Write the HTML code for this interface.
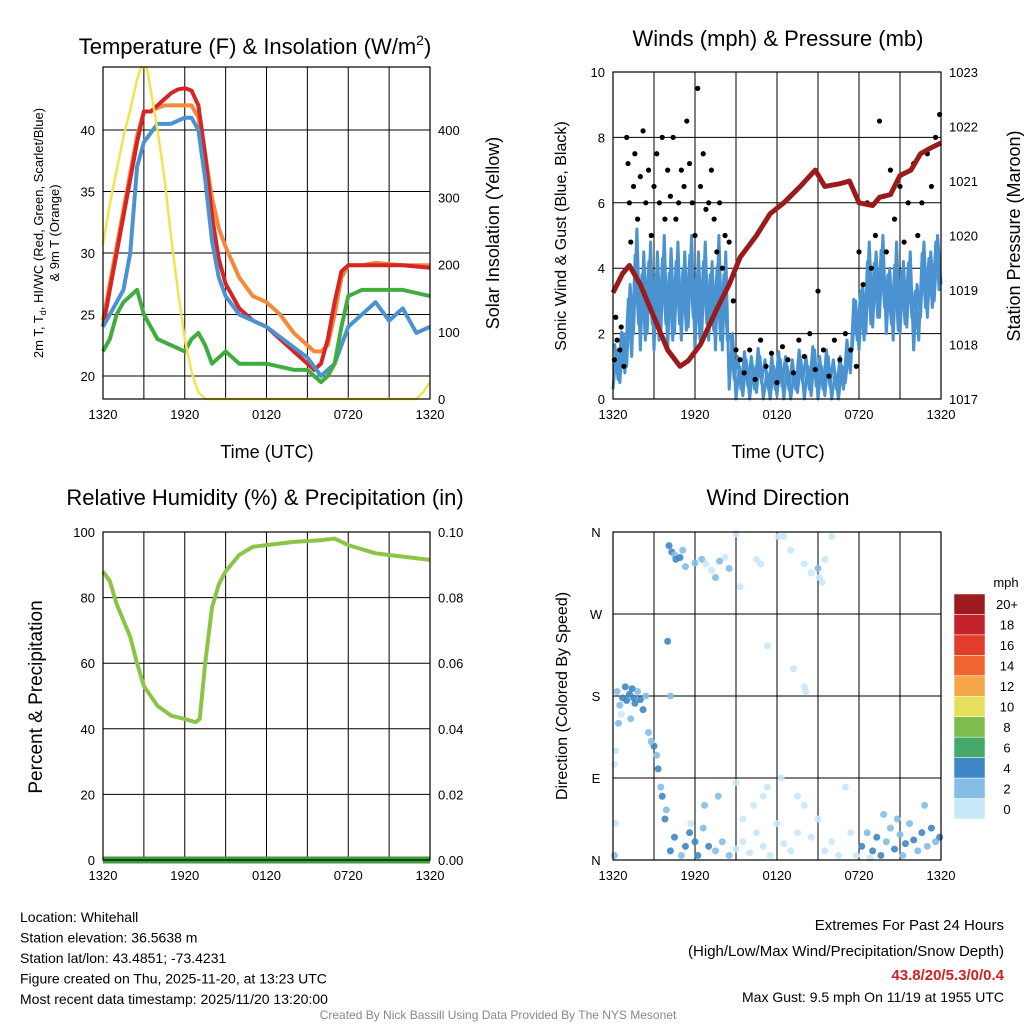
<!DOCTYPE html>
<html><head><meta charset="utf-8"><style>
body{margin:0;background:#fff}
svg{display:block;font-family:"Liberation Sans",sans-serif}
</style></head><body>
<svg id="c" width="1024" height="1024" viewBox="0 0 1024 1024"></svg>
<script>
const xLabels=["1320","1920","0120","0720","1320"];
const xLabelHours=[0,6,12,18,24];
const tempT=[0,0.5,1,1.5,2,2.5,3,3.5,4,4.5,5,5.5,6,6.5,7,7.5,8,8.5,9,10,11,12,13,14,15,15.5,16,16.5,17,17.5,18,19,20,22,24];
const tempRed=[24,27,30,33,36,39,41.5,41.5,42,42.5,43,43.3,43.4,43.2,42,38,33,29.5,27.5,25.5,24.5,24,23,22,21,20.5,21,23,26,28.5,29,29,29,29,28.8];
const tempOrange=[24.5,27.5,30.5,33.5,36.5,39.5,41.5,41.5,41.8,42,42,42,42,42,41,38,34.5,32,30.5,28,26.5,26,25,23.5,22.5,22,22,22.5,25,28,29,29,29.2,29,29];
const blueT=[0,1,1.5,2,2.5,3,4,5,6,6.5,7,7.5,8,8.5,9,10,12,15,16,17,18,19,20,21,22,23,24];
const tempBlue=[24,26,27,30,37,39,40.5,40.5,41,41,40,36,31,28,26.5,25,24,21.5,20,21,24,25,26,24.5,25.5,23.5,24];
const greenT=[0,0.5,1,1.5,2,2.5,3,4,5,6,6.5,7,7.5,8,9,10,12,14,15,16,16.5,17,17.5,18,19,20,22,24];
const tempGreen=[22,23,25,26,26.5,27,25,23,22.5,22,23,23.5,22.5,21,22,21,21,20.5,20.5,19.5,20,21,24,26.5,27,27,27,26.5];
const solT=[0,0.5,1,1.5,2,2.5,2.8,3.2,3.5,4,4.5,5,5.5,6,6.5,7,7.5,12,23,23.5,24];
const solar=[230,290,340,390,430,475,494,494,460,400,330,240,160,90,40,10,0,0,0,10,25];
const windHi=[1.5,2,3.5,5.2,4.5,4.8,4.5,5,4.6,4.8,4.5,5,4.5,4.8,4.2,5,4.5,2,1,1.2,1,1.3,0.8,1,1.2,1,0.8,1.2,1,1.5,1,1.3,0.8,1,1.5,3,3.5,4.8,4.5,5,4,4.8,4.2,4.5,3.5,4.8,4.5,5,4.5];
const windLo=[0.3,0.5,1,2,1.5,2,1.5,2,1.5,2,1.8,2.2,1.5,2,1.8,1.5,1.5,0.3,0,0.1,0,0.2,0,0,0.1,0,0,0.2,0,0.1,0,0.1,0,0,0.5,1.5,1.5,2,2.2,2.5,2,1.8,2,2.2,1.5,2.5,2.5,3,3.5];
const gustT=[0.1,0.2,0.3,0.5,0.6,0.8,1.0,1.1,1.2,1.3,1.5,1.6,1.8,2.0,2.2,2.4,2.6,2.8,3.0,3.2,3.4,3.6,3.8,4.0,4.2,4.4,4.6,4.8,5.0,5.2,5.4,5.6,5.8,6.0,6.2,6.4,6.6,6.8,7.0,7.2,7.4,7.6,7.8,8.0,8.2,8.5,8.8,9.0,9.3,9.6,10,10.4,10.8,11.2,11.6,12,12.4,12.8,13.2,13.6,14,14.4,14.8,15,15.4,15.8,16.2,16.6,17,17.4,17.8,18,18.3,18.6,18.9,19.2,19.5,19.8,20,20.3,20.6,21,21.3,21.6,22,22.3,22.6,23,23.3,23.6,23.9];
const gustV=[1.2,2.5,1.8,1.5,2.2,1,8,7.2,6,4.8,6.5,7.5,5.5,6.8,8.2,6,7,5,6.5,7.5,6,8,5.5,7,6.2,8,5.5,6,7,6.5,8.5,7.2,6,5,9.5,6.5,7.5,5.8,6,7,5.5,4.5,6,4,5,4.8,3,1.5,1.2,0.8,1.5,0.6,1.8,1,1.4,0.5,1.6,1.2,0.8,1.8,1.3,2,0.9,3.3,1.5,0.7,1.8,1.2,2,1.5,1,4.5,3.5,6,4,5,8.5,6.2,4.5,7,5.5,6.5,4.8,6,7.2,5,6,7.5,6.5,8,8.7];
const presT=[0,0.7,1.2,2,3,4,4.9,5.5,6.4,7.5,8.5,9.3,10.5,11.5,12.5,13.7,14.8,15.5,16.6,17.3,18,19,19.5,20.3,21,21.8,22.5,23.2,24];
const pres=[1018.95,1019.3,1019.45,1019.1,1018.5,1017.9,1017.6,1017.7,1018.0,1018.6,1019.1,1019.6,1020.0,1020.4,1020.6,1020.9,1021.2,1020.9,1020.95,1021.0,1020.6,1020.55,1020.7,1020.75,1021.1,1021.2,1021.5,1021.6,1021.7];
const rhT=[0,0.5,1,2,2.5,3,4,5,6,6.8,7.1,7.5,8,8.5,9,10,11,12,14,16,17,18,20,22,24];
const rh=[88,85,78,68,60,53,47,44,43,42,43,60,77,84,88,93,95.5,96,97,97.5,98,96,93.5,92.5,91.5];
const dirT=[0.3,0.5,0.7,0.9,1.0,1.2,1.4,1.5,1.6,1.8,2.0,2.2,2.4,0.4,0.6,1.3,0.2,0.1,2.6,3.0,3.2,3.3,3.5,3.6,2.8,3.9,3.8,0.2,0.1,4.0,4.2,4.1,4.3,4.5,4.6,4.9,5.1,5.3,6.0,6.5,6.8,7.2,7.5,7.8,8.2,8.5,9.0,9.3,10.5,10.8,12.1,12.5,13,14,14.5,15.0,15.1,15.3,15.5,16,11.3,14.0,14.1,13.2,4.2,4.5,5,5.3,5.6,6,6.2,6.6,7,7.5,8,8.5,9,9.5,10,10.5,11,11.5,12,12.5,13,13.5,14,14.5,15,15.5,16,16.5,17,17.4,11,11.3,12.3,13.5,10.3,9.5,9,7.7,6.7,5.7,18.2,18.6,19,19.3,19.6,20,20.3,20.6,21,21.4,21.7,22,22.3,22.6,23,23.3,23.6,23.9,21.2,20.8,19.8,22.8,18.8,17.8];
const dirDeg=[185,170,178,190,175,182,188,178,172,185,176,165,180,150,160,155,120,105,140,125,115,100,80,70,130,55,45,40,5,240,180,345,338,335,330,332,340,322,326,330,325,318,310,328,332,320,358,300,330,325,355,355,340,325,315,320,310,305,330,355,235,190,185,210,10,25,5,15,30,20,5,35,15,10,20,5,12,20,8,30,15,5,40,18,10,30,60,25,45,10,20,5,80,30,70,80,90,70,60,45,85,70,60,40,15,30,10,25,5,20,35,12,28,18,40,22,10,30,15,35,20,25,5,45,50,60,2,5];
const dirSpd=[3,2,4,4,5,4,4,5,4,3,4,4,3,2,1,3,1,1,3,4,2,4,3,4,3,3,4,0,2,4,3,4,5,3,4,4,3,2,2,3,1,1,2,2,1,2,1,1,0,1,0,0,0,1,1,2,1,0,1,0,1,1,0,1,4,4,3,4,4,5,4,3,4,2,3,2,1,0,1,0,1,0,0,1,0,1,1,0,1,0,1,1,1,1,1,1,0,1,1,1,1,2,2,1,4,3,4,5,4,3,3,4,3,4,3,4,3,4,3,4,3,4,3,2,2,3,1,0];
const cbLabels=["20+","18","16","14","12","10","8","6","4","2","0"];
const cbColors=["#9b1b1e","#c3222a","#e23c2c","#ef6530","#f5a54a","#e5df5d","#7dbd4b","#47a86c","#3d87c4","#84bde5","#c7e8f9"];

const S=document.getElementById('c');const NS='http://www.w3.org/2000/svg';
function mk(t,a,p,txt){const e=document.createElementNS(NS,t);for(const k in a)e.setAttribute(k,a[k]);if(txt!==undefined)e.textContent=txt;(p||S).appendChild(e);return e;}
function lin(d0,d1,r0,r1){return v=>r0+(v-d0)*(r1-r0)/(d1-d0);}
function panel(name,x0,x1,y0,y1,yt){
  const g=mk('g',{});
  
  
  const X=lin(0,24,x0,x1);
  for(let h=3;h<24;h+=3){const l=mk('line',{x1:X(h),x2:X(h),y1:y0,y2:y1,stroke:'#000','stroke-width':1},g);}
  yt.forEach(y=>{const l=mk('line',{x1:x0,x2:x1,y1:y,y2:y,stroke:'#000','stroke-width':1},g);});
  xLabels.forEach((s,i)=>{const t=mk('text',{x:X(xLabelHours[i]),y:y1+20,'font-size':13,'text-anchor':'middle'},g,s);});
  return {g,X};
}
function frame(g,x0,x1,y0,y1){const r=mk('rect',{x:x0,y:y0,width:x1-x0,height:y1-y0,fill:'none',stroke:'#000','stroke-width':1.2},g);}
function line(g,X,Y,ts,vs,col,w,name){const l=mk('polyline',{points:ts.map((t,i)=>X(t)+','+Y(vs[i])).join(' '),fill:'none',stroke:col,'stroke-width':w,'stroke-linejoin':'round'},g);}
function txt(s,x,y,fs,anc,rot,name,col,wt){const a={x,y,'font-size':fs,'text-anchor':anc||'middle',fill:col||'#000'};if(rot)a.transform=`rotate(-90 ${x} ${y})`;if(wt)a['font-weight']=wt;const t=mk('text',a,S,s);return t;}

// Panel 1
{const x0=103,x1=430,y0=67,y1=399;const Y=lin(20,40,376,130),Yr=lin(0,400,399,130);
const yt=[20,25,30,35,40];const p=panel('temperature-panel',x0,x1,y0,y1,yt.map(Y));const g=p.g,X=p.X;
yt.forEach(v=>{const t=mk('text',{x:x0-8,y:Y(v)+5,'font-size':13,'text-anchor':'end'},g,v);});
[0,100,200,300,400].forEach(v=>{const t=mk('text',{x:x1+8,y:Yr(v)+5,'font-size':13,'text-anchor':'start'},g,v);});
const Yc=v=>Math.max(y0,Math.min(y1,Y(v)));
line(g,X,Yc,tempT,tempOrange,'#f6883a',4,'orange-9m-temp-line');
line(g,X,Yc,tempT,tempRed,'#d62525',4,'red-2m-temp-line');
line(g,X,Yc,blueT,tempBlue,'#4b93d0',4,'blue-dewpoint-line');
line(g,X,Yc,greenT,tempGreen,'#3fae3f',4,'green-heatindex-line');
line(g,X,v=>Math.max(y0,Yr(v)),solT,solar,'#f4e34e',2.5,'yellow-insolation-line');
frame(g,x0,x1,y0,y1);}
const t1=txt('Temperature (F) & Insolation (W/m',255,54,22,'middle',0,'temperature-title');
mk('tspan',{dy:-9,'font-size':14},t1,'2');mk('tspan',{dy:9},t1,')');
txt('Time (UTC)',267,458,18,'middle',0,'x-axis-title');
{const t=txt('',43,233,13,'middle',1,'left-axis-title-temp');t.textContent='2m T, T';mk('tspan',{'font-size':9,dy:3},t,'d');mk('tspan',{dy:-3},t,', HI/WC (Red, Green, Scarlet/Blue)');}
txt('& 9m T (Orange)',59,233,13,'middle',1,'left-axis-title-temp2');
txt('Solar Insolation (Yellow)',499,233,18,'middle',1,'right-axis-title-solar');

// Panel 2
{const x0=613,x1=941,y0=72,y1=399;const Y=lin(0,10,399,72),Yr=lin(1017,1023,399,72);
const yt=[0,2,4,6,8,10];const p=panel('wind-panel',x0,x1,y0,y1,yt.map(Y));const g=p.g,X=p.X;
yt.forEach(v=>{const t=mk('text',{x:x0-8,y:Y(v)+5,'font-size':13,'text-anchor':'end'},g,v);});
[1017,1018,1019,1020,1021,1022,1023].forEach(v=>{const t=mk('text',{x:x1+8,y:Yr(v)+5,'font-size':13,'text-anchor':'start'},g,v);});
const zt=[],zv=[];windHi.forEach((h,i)=>{zt.push(i*0.5);zv.push(windLo[i]);zt.push(i*0.5+0.25);zv.push(h);});
const zt2=zt.map(t=>t+0.12),zv2=[];windHi.forEach((h,i)=>{zv2.push((h+windLo[i])/2+0.8);zv2.push(windLo[i]+0.3);});
line(g,X,Y,zt.filter(t=>t<=24),zv,'#4b93d0',3,'sonic-wind-line');
line(g,X,Y,zt2.filter(t=>t<=24),zv2,'#4b93d0',3,'sonic-wind-line-2');
gustT.forEach((t,i)=>{const c=mk('circle',{cx:X(t),cy:Y(gustV[i]),r:2.6,fill:'#000'},g);});
line(g,X,Yr,presT,pres,'#9b1a1a',5,'pressure-line');
frame(g,x0,x1,y0,y1);}
txt('Winds (mph) & Pressure (mb)',778,46,22,'middle',0,'wind-title');
txt('Time (UTC)',778,458,18,'middle',0,'x-axis-title-wind');
txt('Sonic Wind & Gust (Blue, Black)',566,236,16,'middle',1,'left-axis-title-wind');
txt('Station Pressure (Maroon)',1020,236,18,'middle',1,'right-axis-title-pressure');

// Panel 3
{const x0=103,x1=430,y0=532,y1=860;const Y=lin(0,100,860,532);
const yt=[0,20,40,60,80,100];const p=panel('humidity-panel',x0,x1,y0,y1,yt.map(Y));const g=p.g,X=p.X;
yt.forEach(v=>{const t=mk('text',{x:x0-8,y:Y(v)+5,'font-size':13,'text-anchor':'end'},g,v);});
['0.00','0.02','0.04','0.06','0.08','0.10'].forEach((s,i)=>{const t=mk('text',{x:x1+8,y:Y(i*20)+5,'font-size':13,'text-anchor':'start'},g,s);});
line(g,X,Y,rhT,rh,'#8cc447',4,'rh-line');
line(g,X,Y,[0,24],[0,0],'#3d9e3d',7,'precip-line');
frame(g,x0,x1,y0,y1);}
txt('Relative Humidity (%) & Precipitation (in)',265,505,22,'middle',0,'humidity-title');
txt('Percent & Precipitation',42,697,19,'middle',1,'left-axis-title-rh');

// Panel 4
{const x0=613,x1=941,y0=532,y1=860;const Y=lin(0,360,860,532);
const yt=[0,90,180,270,360];const p=panel('wind-direction-panel',x0,x1,y0,y1,yt.map(Y));const g=p.g,X=p.X;
['N','E','S','W','N'].forEach((s,i)=>{const t=mk('text',{x:x0-17,y:Y(yt[i])+5,'font-size':13,'text-anchor':'middle'},g,s);});
dirT.forEach((t,i)=>{const b=Math.min(10,Math.floor(dirSpd[i]/2));const c=mk('circle',{cx:X(t),cy:Y(dirDeg[i]),r:3.5,fill:cbColors[10-b],'fill-opacity':0.9},g);});
frame(g,x0,x1,y0,y1);
const cb=mk('g',{});
const h=225/11;cbColors.forEach((c,i)=>{const r=mk('rect',{x:954,y:594+i*h,width:31,height:h,fill:c,stroke:'#fff','stroke-width':0.5},cb);
const t=mk('text',{x:1007,y:594+i*h+h/2+5,'font-size':13,'text-anchor':'middle'},cb,cbLabels[i]);});
const u=mk('text',{x:1006,y:587,'font-size':13,'text-anchor':'middle'},cb,'mph');}
txt('Wind Direction',778,505,22,'middle',0,'wind-direction-title');
txt('Direction (Colored By Speed)',567,696,16,'middle',1,'left-axis-title-direction');

// Footer
['Location: Whitehall','Station elevation: 36.5638 m','Station lat/lon: 43.4851; -73.4231','Figure created on Thu, 2025-11-20, at 13:23 UTC','Most recent data timestamp: 2025/11/20 13:20:00'].forEach((s,i)=>txt(s,20,922+i*20.5,14,'start',0,'station-info-line'));
txt('Extremes For Past 24 Hours',1004,930,15,'end',0,'extremes-heading');
txt('(High/Low/Max Wind/Precipitation/Snow Depth)',1004,956,15,'end',0,'extremes-subheading');
txt('43.8/20/5.3/0/0.4',1004,980,15,'end',0,'extremes-values','#cc2222','bold');
txt('Max Gust: 9.5 mph On 11/19 at 1955 UTC',1004,1002,14,'end',0,'max-gust-text');
txt('Created By Nick Bassill Using Data Provided By The NYS Mesonet',498,1019,12,'middle',0,'credit-text','#888');
</script>
</body></html>
